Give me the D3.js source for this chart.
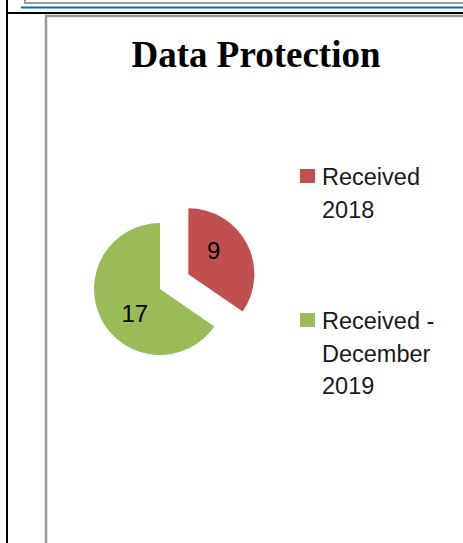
<!DOCTYPE html>
<html>
<head>
<meta charset="utf-8">
<script src="https://cdn.jsdelivr.net/npm/d3@7"></script>
<style>
  body { margin: 0; background: #fff; }
  svg { display: block; }
</style>
</head>
<body>
<div id="chart"></div>
<script>
var categories = ["Received 2018", "Received - December 2019"];
var legendLines = [["Received", "2018"], ["Received -", "December", "2019"]];
var values = [9, 17];
var colors = ["#c0504d", "#9bbb59"];

var width = 463,
    height = 543;

var svg = d3.select("#chart")
  .append("svg")
    .attr("width", width)
    .attr("height", height);

// page frame lines (document border around the chart)
svg.append("path")
  .attr("d", "M25,0 V3 H463")
  .attr("fill", "none")
  .attr("stroke", "#9a9a9a")
  .attr("stroke-width", 2);
svg.append("line")
  .attr("x1", 21).attr("x2", width)
  .attr("y1", 7.5).attr("y2", 7.5)
  .attr("stroke", "#0070c0")
  .attr("stroke-width", 2);
svg.append("path")
  .attr("d", "M7,0 V543 M7,13 H463")
  .attr("fill", "none")
  .attr("stroke", "#000")
  .attr("stroke-width", 2);
svg.append("path")
  .attr("d", "M46,543 V16 H463")
  .attr("fill", "none")
  .attr("stroke", "#9a9a9a")
  .attr("stroke-width", 2.5);

svg.append("text")
  .attr("x", 256)
  .attr("y", 67)
  .attr("text-anchor", "middle")
  .style("font-family", "'Liberation Serif', 'Times New Roman', serif")
  .style("font-weight", "bold")
  .style("font-size", "37px")
  .text("Data Protection");

// pie
var radius = 66,
    explode = 32;

var pie = d3.pie().sort(null).value(function(d) { return d; });
var arcs = pie(values);

var arc = d3.arc().innerRadius(0).outerRadius(radius);

var g = svg.append("g")
  .attr("transform", "translate(160,289)");

function offset(d, i) {
  if (i !== 0) return [0, 0];
  var a = (d.startAngle + d.endAngle) / 2;
  return [Math.sin(a) * explode, -Math.cos(a) * explode];
}

var slices = g.selectAll(".slice")
  .data(arcs)
  .enter()
  .append("g")
  .attr("class", "slice")
  .attr("transform", function(d, i) {
    var o = offset(d, i);
    return "translate(" + o[0] + "," + o[1] + ")";
  });

slices.append("path")
  .attr("d", arc)
  .attr("fill", function(d, i) { return colors[i]; });

slices.append("text")
  .attr("transform", function(d) {
    var a = (d.startAngle + d.endAngle) / 2 - 0.28;
    var r = radius * 0.53;
    return "translate(" + (Math.sin(a) * r) + "," + (-Math.cos(a) * r) + ")";
  })
  .attr("text-anchor", "middle")
  .attr("dy", "0.36em")
  .style("font-family", "'Liberation Sans', sans-serif")
  .style("font-size", "24px")
  .attr("fill", "#000")
  .text(function(d) { return d.data; });

// legend
var legend = svg.selectAll(".legend")
  .data(categories)
  .enter()
  .append("g")
  .attr("class", "legend")
  .attr("transform", function(d, i) { return "translate(300," + (169 + i * 144) + ")"; });

legend.append("rect")
  .attr("width", 15)
  .attr("height", 14)
  .attr("fill", function(d, i) { return colors[i]; });

legend.append("text")
  .attr("x", 22)
  .attr("y", 16)
  .style("font-family", "'Liberation Sans', sans-serif")
  .style("font-size", "23.5px")
  .attr("fill", "#1a1a1a")
  .selectAll("tspan")
  .data(function(d, i) { return legendLines[i]; })
  .enter()
  .append("tspan")
    .attr("x", 22)
    .attr("dy", function(d, j) { return j === 0 ? 0 : 32.5; })
    .text(function(d) { return d; });
</script>
</body>
</html>
